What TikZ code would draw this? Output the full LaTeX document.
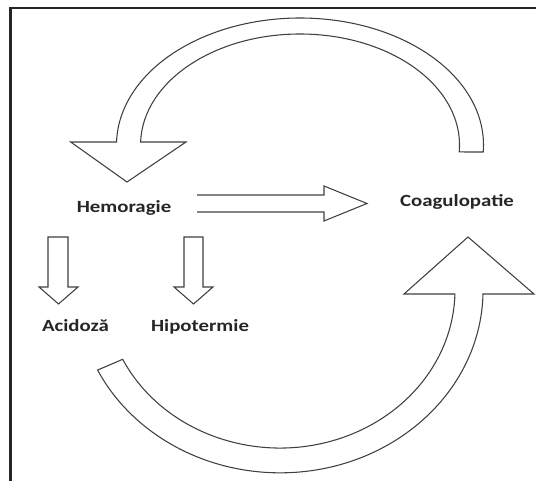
\documentclass[tikz,border=0pt]{standalone}
\usepackage{fontspec}
\newfontfamily\lblfont{Carlito}[FakeStretch=1.22]
\begin{document}
\begin{tikzpicture}[x=0.75pt,y=0.75pt,
  blockarrow/.style={draw=black!75,line width=0.8pt,line join=miter,fill=white},
  lbl/.style={font=\lblfont\fontsize{12.8}{15}\selectfont\bfseries,text=black!85,anchor=base,inner sep=0pt}]
\useasboundingbox (0,0) rectangle (536,481);
% frame (left and top edges)
\draw[line width=1.6pt,black!85] (10.5,0) -- (10.5,473) -- (536,473);
% top curved arrow
\draw[blockarrow] (483.2,329) arc[start angle=-3.16,end angle=178.65,x radius=183.5,y radius=127]
  -- (70.7,339) -- (127,299) -- (186,339) -- (140.6,339)
  arc[start angle=178.45,end angle=-3.6,x radius=159.5,y radius=111] -- cycle;
% straight arrow
\draw[blockarrow,fill=none] (197,286) -- (324,286) -- (324,295) -- (367,277.5) -- (324,260) -- (324,269) -- (197,269);
% small down arrows
\draw[blockarrow] (48,244) -- (68,244) -- (68,194) -- (78,194) -- (58.5,177) -- (39,194) -- (48,194) -- cycle;
\draw[blockarrow] (184,244) -- (203,244) -- (203,194) -- (213,194) -- (193.5,177) -- (174,194) -- (184,194) -- cycle;
% bottom curved arrow
\draw[blockarrow] (404,187) -- (468,244) -- (534,187) -- (483,187)
  arc[start angle=358.7,end angle=206,x radius=203,y radius=183]
  -- (122.7,121.7)
  arc[start angle=206,end angle=358.55,x radius=175,y radius=158] -- cycle;
% labels
\node[lbl] (hem) at (124,268) {Hemoragie};
\node[lbl] (coa) at (457,274.5) {Coagulopatie};
\node[lbl] (aci) at (75.5,149) {Acidoză};
\node[lbl] (hip) at (200,149) {Hipotermie};
\end{tikzpicture}
\end{document}
